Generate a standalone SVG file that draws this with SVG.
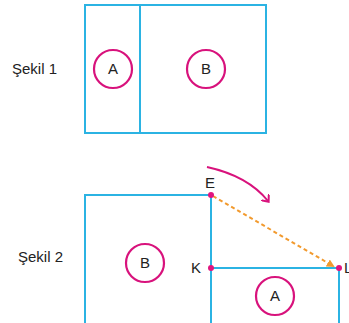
<svg xmlns="http://www.w3.org/2000/svg" width="349" height="323" viewBox="0 0 349 323">
<defs>
<style>
.box{fill:none;stroke:#2bb3e3;stroke-width:2}
.ring{fill:none;stroke:#d8127c;stroke-width:2.2}
.t{font-family:"Liberation Sans",Arial,sans-serif;font-size:15px;fill:#222}
.dot{fill:#e0157f}
</style>
<marker id="ah" markerWidth="8" markerHeight="8" refX="6" refY="4" orient="auto" markerUnits="userSpaceOnUse">
<path d="M0,0 L8,4 L0,8 Z" fill="#f29a2e"/>
</marker>
<marker id="am" markerWidth="10" markerHeight="10" refX="5" refY="5" orient="auto" markerUnits="userSpaceOnUse">
<path d="M0,0 L6,5 L0,10" fill="none" stroke="#d8127c" stroke-width="2"/>
</marker>
</defs>
<g id="sekil1">
<text class="t" x="12" y="74">Şekil 1</text>
<rect class="box" x="85" y="5" width="181" height="128"/>
<line class="box" x1="140" y1="5" x2="140" y2="133"/>
</g>
<g id="s1A"><circle class="ring" cx="113" cy="69" r="19"/><text class="t" x="113" y="74" text-anchor="middle">A</text></g>
<g id="s1B"><circle class="ring" cx="206" cy="69" r="19"/><text class="t" x="206" y="74" text-anchor="middle">B</text></g>
<g id="sekil2">
<text class="t" x="18" y="262">Şekil 2</text>
</g>
<g id="s2B"><rect class="box" x="85" y="195" width="126" height="130"/><circle class="ring" cx="145" cy="263" r="19"/><text class="t" x="145" y="268" text-anchor="middle">B</text></g>
<g id="s2A"><rect class="box" x="211" y="268" width="128" height="57"/><circle class="ring" cx="275" cy="296" r="19"/><text class="t" x="275" y="301" text-anchor="middle">A</text></g>
<g id="connectors">
<path d="M207,167 Q248,176 268,201" fill="none" stroke="#d8127c" stroke-width="2" marker-end="url(#am)"/>
<line x1="213" y1="196" x2="333" y2="266" stroke="#f29a2e" stroke-width="2" stroke-dasharray="4,3" marker-end="url(#ah)"/>
</g>
<g id="points">
<circle class="dot" cx="211" cy="195" r="3"/>
<circle class="dot" cx="211" cy="268" r="3"/>
<circle class="dot" cx="339" cy="268" r="3"/>
<text class="t" x="210" y="188" text-anchor="middle">E</text>
<text class="t" x="201" y="273" text-anchor="end">K</text>
<text class="t" x="344" y="273">L</text>
</g>
</svg>
